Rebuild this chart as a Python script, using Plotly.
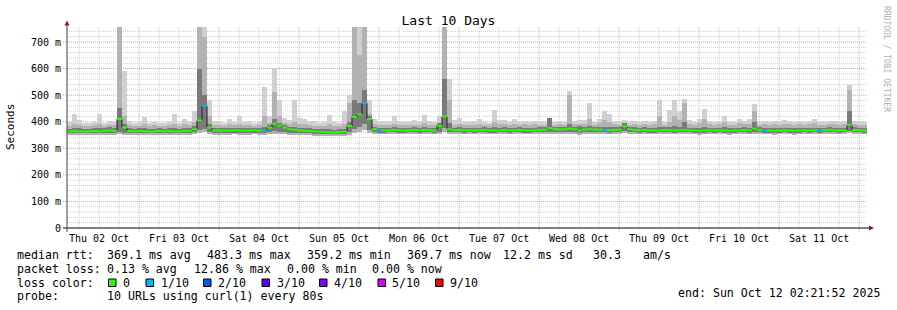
import plotly.graph_objects as go
import pandas as pd

# ---------------- data (ms), one value per 90-minute step ----------------
START = "2025-10-02 02:21:52"
END = "2025-10-12 02:21:52"
STEP_MIN = 90

med = [364, 365, 364, 363, 364, 365, 364, 366, 368, 366,
       410, 378, 365, 364, 365, 364, 363, 364, 365, 364,
       365, 364, 364, 365, 366, 372, 405, 460, 378, 367,
       367, 366, 367, 368, 367, 366, 367, 368, 366, 367,
       378, 392, 385, 378, 372, 370, 368, 366, 365, 364,
       362, 361, 360, 360, 361, 362, 384, 418, 428, 470,
       410, 372, 368, 367, 368, 369, 368, 367, 368, 369,
       368, 369, 368, 367, 385, 420, 372, 368, 369, 368,
       368, 367, 368, 369, 368, 367, 368, 369, 368, 368,
       369, 368, 367, 368, 369, 370, 376, 372, 371, 372,
       374, 372, 366, 370, 372, 371, 370, 369, 368, 369,
       370, 382, 372, 369, 368, 369, 368, 367, 368, 369,
       368, 367, 368, 369, 368, 367, 366, 367, 368, 367,
       368, 367, 366, 367, 368, 369, 368, 374, 369, 368,
       367, 366, 367, 368, 367, 366, 367, 368, 367, 368,
       367, 368, 369, 368, 367, 368, 388, 369, 368, 367]

smoke_max = [398, 430, 405, 396, 394, 400, 428, 397, 402, 399,
             757, 590, 402, 396, 398, 418, 395, 400, 397, 394,
             399, 430, 396, 410, 398, 440, 757, 757, 480, 402,
             398, 396, 410, 400, 420, 398, 404, 396, 401, 530,
             420, 602, 480, 415, 405, 482, 415, 412, 398, 402,
             396, 399, 425, 398, 395, 440, 500, 757, 757, 757,
             480, 410, 400, 404, 398, 420, 402, 398, 400, 405,
             399, 425, 402, 398, 420, 757, 560, 405, 415, 400,
             398, 402, 410, 400, 397, 444, 405, 408, 400, 410,
             398, 402, 399, 404, 400, 398, 405, 400, 402, 398,
             515, 402, 408, 405, 470, 398, 412, 440, 430, 402,
             400, 405, 398, 402, 400, 404, 399, 402, 482, 400,
             445, 482, 440, 485, 405, 400, 410, 448, 402, 400,
             404, 420, 400, 398, 412, 402, 410, 466, 400, 402,
             398, 404, 400, 408, 402, 399, 404, 400, 402, 410,
             400, 398, 402, 404, 399, 402, 538, 404, 400, 398]

smoke_mid = [385, 390, 386, 384, 385, 386, 390, 385, 388, 386,
             757, 420, 386, 384, 385, 390, 384, 386, 385, 384,
             386, 392, 385, 390, 386, 400, 757, 720, 420, 388,
             386, 385, 390, 387, 392, 386, 388, 385, 387, 420,
             395, 510, 420, 395, 390, 400, 392, 390, 386, 385,
             384, 383, 390, 383, 384, 392, 470, 757, 650, 757,
             430, 390, 387, 388, 386, 392, 388, 386, 387, 389,
             388, 395, 388, 387, 395, 757, 480, 388, 392, 388,
             387, 389, 392, 388, 387, 400, 390, 392, 388, 390,
             388, 390, 388, 391, 389, 388, 392, 389, 390, 388,
             500, 390, 392, 391, 410, 388, 394, 405, 400, 390,
             389, 395, 388, 390, 389, 391, 388, 390, 420, 389,
             400, 420, 405, 470, 392, 389, 394, 410, 390, 389,
             391, 398, 389, 388, 394, 390, 392, 440, 389, 390,
             388, 391, 389, 393, 390, 388, 391, 389, 390, 394,
             389, 388, 390, 391, 388, 390, 520, 391, 389, 388]

smoke_dark_top = [374, 376, 375, 373, 374, 375, 376, 376, 380, 376,
                  450, 392, 375, 374, 375, 376, 373, 374, 375, 374,
                  375, 377, 374, 376, 376, 385, 600, 500, 392, 377,
                  377, 376, 377, 378, 377, 376, 377, 378, 376, 382,
                  388, 410, 395, 386, 382, 380, 378, 376, 375, 374,
                  372, 371, 372, 370, 371, 374, 400, 480, 470, 520,
                  420, 382, 378, 377, 378, 379, 378, 377, 378, 379,
                  378, 379, 378, 377, 395, 560, 395, 378, 379, 378,
                  378, 377, 378, 379, 378, 380, 378, 379, 378, 378,
                  379, 378, 377, 378, 379, 380, 415, 382, 381, 382,
                  390, 382, 385, 380, 384, 381, 380, 382, 380, 379,
                  380, 395, 382, 379, 378, 379, 378, 377, 382, 379,
                  380, 384, 382, 400, 378, 377, 376, 380, 378, 377,
                  378, 380, 376, 377, 378, 379, 378, 400, 379, 378,
                  377, 376, 377, 378, 377, 376, 377, 378, 377, 378,
                  377, 378, 379, 378, 377, 378, 440, 379, 378, 377]

smoke_dark_bot = [357, 356, 357, 356, 357, 356, 357, 357, 358, 357,
                  362, 358, 357, 356, 357, 357, 356, 357, 357, 356,
                  357, 356, 357, 357, 358, 360, 368, 372, 360, 358,
                  358, 357, 358, 359, 358, 357, 358, 359, 358, 358,
                  362, 365, 362, 360, 359, 358, 357, 356, 356, 355,
                  354, 353, 353, 352, 353, 354, 360, 372, 380, 390,
                  368, 360, 359, 359, 360, 360, 359, 359, 360, 360,
                  359, 360, 360, 359, 362, 375, 362, 360, 360, 359,
                  360, 359, 360, 360, 359, 359, 360, 360, 359, 360,
                  360, 359, 359, 360, 360, 361, 362, 361, 360, 361,
                  362, 361, 358, 361, 362, 361, 360, 360, 359, 360,
                  361, 365, 361, 360, 359, 360, 359, 359, 360, 360,
                  360, 359, 360, 361, 360, 359, 358, 359, 360, 359,
                  360, 359, 358, 359, 360, 360, 359, 362, 360, 359,
                  359, 358, 359, 360, 359, 358, 359, 360, 359, 360,
                  359, 360, 360, 360, 359, 360, 366, 360, 360, 359]

smoke_min = [350, 349, 350, 349, 350, 350, 349, 350, 351, 350,
             352, 351, 350, 349, 350, 350, 349, 350, 350, 349,
             350, 349, 350, 350, 351, 352, 356, 360, 352, 351,
             351, 350, 351, 352, 351, 350, 351, 352, 351, 351,
             353, 355, 354, 352, 351, 351, 350, 349, 349, 348,
             347, 346, 346, 345, 346, 347, 350, 358, 362, 368,
             356, 352, 352, 352, 353, 353, 352, 352, 353, 353,
             352, 353, 353, 352, 354, 360, 354, 353, 353, 352,
             353, 352, 353, 353, 352, 352, 353, 353, 352, 353,
             353, 352, 352, 353, 353, 354, 354, 354, 353, 354,
             354, 354, 351, 354, 354, 354, 353, 353, 352, 353,
             354, 356, 354, 353, 352, 353, 352, 352, 353, 353,
             353, 352, 353, 354, 353, 352, 351, 352, 353, 352,
             353, 352, 351, 352, 353, 353, 352, 354, 353, 352,
             352, 351, 352, 353, 352, 351, 352, 353, 352, 353,
             352, 353, 353, 353, 352, 353, 356, 353, 353, 352]

loss = [0] * 160
for _i in (27, 39, 59, 62, 107, 139, 150):
    loss[_i] = 1

y_ticks = [0, 100, 200, 300, 400, 500, 600, 700]
y_labels = ["0", "100 m", "200 m", "300 m", "400 m", "500 m", "600 m", "700 m"]
day_labels = ["Thu 02 Oct", "Fri 03 Oct", "Sat 04 Oct", "Sun 05 Oct", "Mon 06 Oct",
              "Tue 07 Oct", "Wed 08 Oct", "Thu 09 Oct", "Fri 10 Oct", "Sat 11 Oct"]
loss_levels = ["0", "1/10", "2/10", "3/10", "4/10", "5/10", "9/10"]
loss_colors = ["#26ff00", "#00b8ff", "#0059ff", "#5e00ff", "#7e00ff", "#dd00ff", "#ff0000"]

# ---------------- geometry helpers (pixels -> paper) ----------------
PL, PR, PT, PB = 67, 867, 27, 228
W, H = 897, 310
def px(x):
    return (x - PL) / (PR - PL)
def py(y):
    return (PB - y) / (PB - PT)

t0 = pd.Timestamp(START)
t_end = pd.Timestamp(END)
step = pd.Timedelta(minutes=STEP_MIN)
n = len(med)
starts = [t0 + step * i for i in range(n)]
centers = [s + step / 2 for s in starts]
width_ms = step.total_seconds() * 1000

fig = go.Figure()

def band(bottom, top, color):
    fig.add_trace(go.Bar(
        x=centers, y=[t - b for t, b in zip(top, bottom)], base=bottom,
        width=[width_ms] * n, marker=dict(color=color, line=dict(width=0)),
        hoverinfo="skip"))

band(smoke_min, smoke_max, "#d0d0d0")
band(smoke_min, smoke_mid, "#b2b2b2")
band(smoke_dark_bot, smoke_dark_top, "#7a7a7a")

# dark median connector line
fig.add_trace(go.Scatter(
    x=starts + [t_end], y=med + [med[-1]], mode="lines",
    line=dict(color="#202020", width=1, shape="hv"), hoverinfo="skip"))

# median colored by loss
for lvl, col in enumerate(loss_colors):
    xs, ys = [], []
    for i in range(n):
        if loss[i] == lvl:
            xs += [starts[i], starts[i] + step, None]
            ys += [med[i], med[i], None]
    if xs:
        fig.add_trace(go.Scatter(x=xs, y=ys, mode="lines",
                                 line=dict(color=col, width=2), hoverinfo="skip"))

shapes = []
# vertical grid
g = pd.Timestamp("2025-10-02 06:00:00")
while g < t_end:
    major = g.hour == 0
    shapes.append(dict(type="line", xref="x", yref="paper", x0=g, x1=g,
                       y0=py(232) if major else 0, y1=1, layer="below",
                       line=dict(color="#f09a9a" if major else "#cfcfcf", width=1,
                                 dash="1px,1px")))
    g += pd.Timedelta(hours=6)
# horizontal grid
for v in range(20, 757, 20):
    major = v % 100 == 0
    shapes.append(dict(type="line", xref="paper", yref="y",
                       x0=px(63) if major else 0, x1=1, y0=v, y1=v, layer="below",
                       line=dict(color="#f09a9a" if major else "#cfcfcf", width=1,
                                 dash="1px,1px")))
# axes lines
shapes.append(dict(type="line", xref="paper", yref="paper", x0=px(63), x1=px(870),
                   y0=0, y1=0, line=dict(color="#000000", width=1)))
shapes.append(dict(type="line", xref="paper", yref="paper", x0=0, x1=0,
                   y0=py(232), y1=py(24), line=dict(color="#404040", width=1)))
# arrows
shapes.append(dict(type="path", xref="paper", yref="paper",
                   path=f"M {px(64.5)},{py(25.5)} L {px(69.5)},{py(25.5)} L {px(67)},{py(20.5)} Z",
                   fillcolor="#8b1a1a", line=dict(width=0)))
shapes.append(dict(type="path", xref="paper", yref="paper",
                   path=f"M {px(869)},{py(225.5)} L {px(869)},{py(230.5)} L {px(874)},{py(228)} Z",
                   fillcolor="#8b1a1a", line=dict(width=0)))

# legend boxes
box_x = [108.5, 146, 203.5, 262, 319.5, 378, 435.5]
lab_x = [120.7, 158.7, 216.3, 274.7, 332.3, 390.3, 447.7]
for bx, col in zip(box_x, loss_colors):
    shapes.append(dict(type="rect", xref="paper", yref="paper",
                       x0=px(bx), x1=px(bx + 7.5), y0=py(286.5), y1=py(279),
                       fillcolor=col, line=dict(color="#000000", width=1)))

MONO = "DejaVu Sans Mono"
LF = 11.6
ann = []
def text(x, y, s, size=LF, color="#000000", anchor="left", angle=0):
    ann.append(dict(xref="paper", yref="paper", x=px(x), y=py(y), text=s,
                    showarrow=False, xanchor=anchor, yanchor="middle",
                    textangle=angle, font=dict(family=MONO, size=size, color=color)))

L1, L2, L3, L4 = 255, 268.5, 282.5, 296
text(14.5, L1, "median rtt:")
for x, s in [(105, "369.1 ms avg"), (205, "483.3 ms max"), (305, "359.2 ms min"),
             (405, "369.7 ms now"), (501, "12.2 ms sd"), (591, "30.3"), (641, "am/s")]:
    text(x, L1, s)
text(14.5, L2, "packet loss:")
for x, s in [(105, "0.13 % avg"), (192, "12.86 % max"), (285, "0.00 % min"), (370, "0.00 % now")]:
    text(x, L2, s)
text(14.5, L3, "loss color:")
for x, s in zip(lab_x, loss_levels):
    text(x, L3, s)
text(14.5, L4, "probe:")
text(105, L4, "10 URLs using curl(1) every 80s")
text(676, 293, "end: Sun Oct 12 02:21:52 2025")
text(11, 127, "Seconds", size=11, anchor="center", angle=-90)
text(887, 59, "RRDTOOL / TOBI OETIKER", size=8, color="#b0b0b0", anchor="center", angle=90)

noon = [pd.Timestamp("2025-10-02 12:00:00") + pd.Timedelta(days=d) for d in range(len(day_labels))]

fig.update_layout(
    width=W, height=H,
    margin=dict(l=PL, r=W - PR, t=PT, b=H - PB),
    paper_bgcolor="white", plot_bgcolor="white",
    showlegend=False, barmode="overlay", bargap=0,
    font=dict(family=MONO, size=10, color="#000000"),
    title=dict(text="Last 10 Days", x=0.5, xref="container", xanchor="center",
               y=1 - 20 / H, yanchor="middle", font=dict(family=MONO, size=13, color="#000000")),
    xaxis=dict(type="date", range=[t0, t_end], showgrid=False, zeroline=False, showline=False,
               tickvals=noon, ticktext=day_labels, ticks="", tickfont=dict(family=MONO, size=10),
               ticklabelstandoff=3, fixedrange=True),
    yaxis=dict(range=[0, 756.5], showgrid=False, zeroline=False, showline=False,
               tickvals=y_ticks, ticktext=y_labels, ticks="", tickfont=dict(family=MONO, size=10),
               ticklabelstandoff=5, fixedrange=True),
    shapes=shapes, annotations=ann,
)

fig.write_html("out.html", include_plotlyjs=True, config={"displayModeBar": False})
